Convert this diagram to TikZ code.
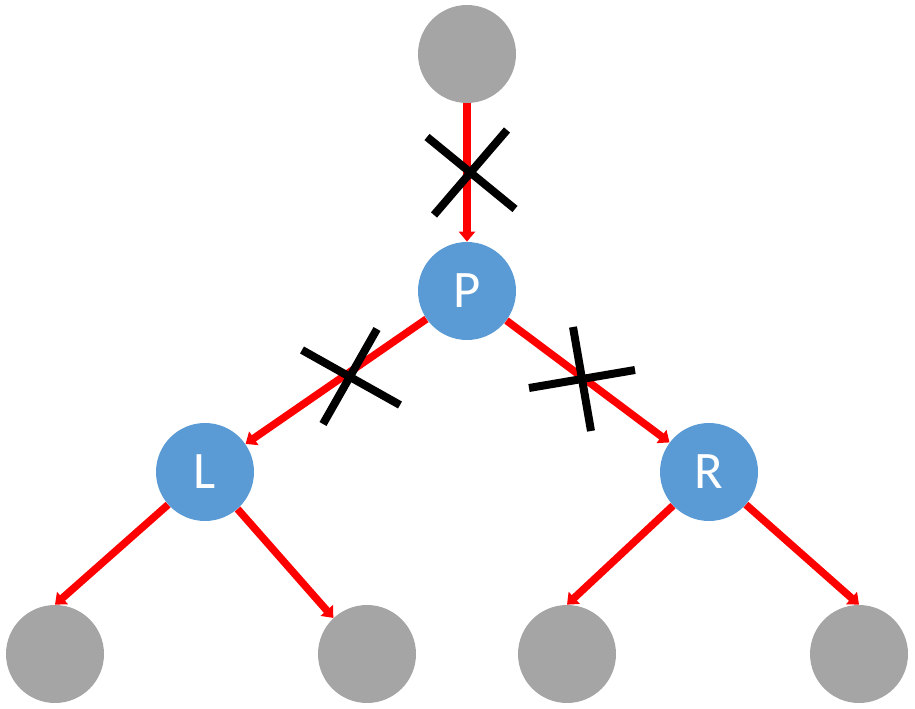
\documentclass[tikz,border=0pt]{standalone}
\usepackage{fontspec}
\setmainfont{Carlito}
\usetikzlibrary{arrows.meta}
\definecolor{treeGray}{HTML}{A5A5A5}
\definecolor{treeBlue}{HTML}{5B9BD5}
\definecolor{treeRed}{HTML}{FF0000}
\begin{document}
\begin{tikzpicture}[x=0.02cm,y=-0.02cm,
  leaf/.style={circle,fill=treeGray,minimum size=1.96cm,inner sep=0pt},
  key/.style={circle,fill=treeBlue,minimum size=1.96cm,inner sep=0pt,
              text=white,font=\fontsize{30}{32}\selectfont},
  arr/.style={-{Triangle[width=0.32cm,length=0.2cm]},treeRed,line width=0.15cm},
  cut/.style={black,line width=0.16cm}]
  \useasboundingbox (0,0) rectangle (915,709);
  \node[leaf] (top) at (467,54)  {};
  \node[key]  (p)   at (467,291) {P};
  \node[key]  (l)   at (205,472) {L};
  \node[key]  (r)   at (709,472) {R};
  \node[leaf] (ll)  at (55,654)  {};
  \node[leaf] (lr)  at (367,654) {};
  \node[leaf] (rl)  at (567,654) {};
  \node[leaf] (rr)  at (859,654) {};
  \draw[arr] (top) -- (p);
  \draw[arr] (p) -- (l);  \draw[arr] (p) -- (r);
  \draw[arr] (l) -- (ll.north); \draw[arr] (l) -- (lr.133);
  \draw[arr] (r) -- (rl.north); \draw[arr] (r) -- (rr.north);
  % cut marks
  \draw[cut] (427,137) -- (515,209); \draw[cut] (507,130) -- (434,215);
  \draw[cut] (302,350) -- (400,405); \draw[cut] (377,329) -- (323,424);
  \draw[cut] (529,388) -- (635,370); \draw[cut] (573,327) -- (591,431);
\end{tikzpicture}
\end{document}
